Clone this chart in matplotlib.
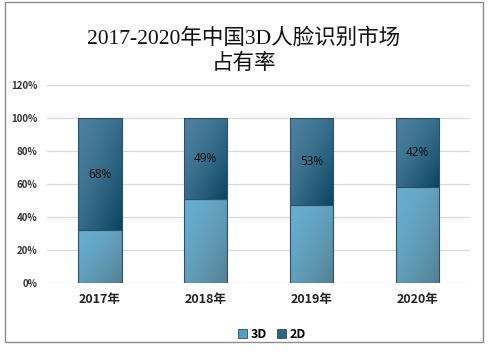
import numpy as np
import matplotlib
matplotlib.use('Agg')
import matplotlib.pyplot as plt
from matplotlib.patches import Rectangle
from matplotlib.colors import to_rgb

years = ['2017年', '2018年', '2019年', '2020年']
share_3d = [0.32, 0.51, 0.47, 0.58]
share_2d = [0.68, 0.49, 0.53, 0.42]
labels_2d = ['68%', '49%', '53%', '42%']
yticks = [0, 0.2, 0.4, 0.6, 0.8, 1.0, 1.2]
ytick_labels = ['0%', '20%', '40%', '60%', '80%', '100%', '120%']

CJK = ['Noto Sans CJK SC', 'DejaVu Sans']
plt.rcParams['font.family'] = CJK

# colour pairs: (top-left, bottom-right)
C3D = ('#68add0', '#557f90')
C2D = ('#4d7f9f', '#08435e')


def gradient_fill(ax, bar, c0, c1):
    """Fill a bar patch with a diagonal gradient clipped to its shape."""
    x0, y0 = bar.get_x(), bar.get_y()
    w, h = bar.get_width(), bar.get_height()
    n = 64
    gx, gy = np.meshgrid(np.linspace(0, 1, n), np.linspace(0, 1, n))
    t = np.clip((gx + gy) / 2.0, 0, 1) ** 1.6
    a, b = np.array(to_rgb(c0)), np.array(to_rgb(c1))
    img = a[None, None, :] * (1 - t[..., None]) + b[None, None, :] * t[..., None]
    im = ax.imshow(img, extent=(x0, x0 + w, y0, y0 + h), origin='upper',
                   aspect='auto', zorder=2, interpolation='bilinear')
    im.set_clip_path(bar)


fig = plt.figure(figsize=(4.88, 3.52), dpi=100)
ax = fig.add_axes([0.0963, 0.196, 0.867, 0.5625])

x = np.arange(len(years))
w = 0.41
bars3 = ax.bar(x, share_3d, w, facecolor='none', edgecolor='#2f5064', lw=0.8, zorder=3, label='3D')
bars2 = ax.bar(x, share_2d, w, bottom=share_3d, facecolor='none', edgecolor='#2f5064',
               lw=0.8, zorder=3, label='2D')
for b in bars3:
    gradient_fill(ax, b, *C3D)
for b in bars2:
    gradient_fill(ax, b, *C2D)

for xi, b3, b2, lab in zip(x, share_3d, share_2d, labels_2d):
    ax.text(xi, b3 + b2 / 2, lab, ha='center', va='center', fontsize=8.5,
            family=['Open Sans', 'DejaVu Sans'], color='#0d0d0d', zorder=4)

ax.set_xlim(-0.5, len(years) - 0.5)
ax.set_ylim(0, 1.2)
ax.set_yticks(yticks)
ax.set_yticklabels(ytick_labels, fontsize=7, fontweight='bold', color='#333333')
ax.set_xticks(x)
ax.set_xticklabels(years, fontsize=9, fontweight='bold', color='#222222')
ax.tick_params(axis='both', length=0)
ax.tick_params(axis='y', pad=7)
ax.tick_params(axis='x', pad=7)
ax.grid(axis='y', color='#d9d9d9', lw=0.9, zorder=0)
ax.set_axisbelow(True)
for s in ax.spines.values():
    s.set_visible(False)

fig.text(0.5, 0.855, '2017-2020年中国3D人脸识别市场\n占有率', ha='center', va='center',
         fontsize=15.5, family=['Liberation Serif', 'Noto Sans CJK SC'],
         linespacing=1.35, color='#111111')

h3 = Rectangle((0, 0), 1, 1, facecolor='#5a9cc0', edgecolor='#2f5064', lw=0.6)
h2 = Rectangle((0, 0), 1, 1, facecolor='#2e6483', edgecolor='#2f5064', lw=0.6)
fig.legend([h3, h2], ['3D', '2D'], loc='center', bbox_to_anchor=(0.557, 0.05),
           ncol=2, frameon=False, handlelength=0.7, handleheight=0.7,
           handletextpad=0.3, columnspacing=0.8,
           prop={'size': 9, 'weight': 'bold', 'family': CJK})

fig.patches.append(Rectangle((5 / 488, 1 - 342 / 352), 478 / 488, 340 / 352,
                             transform=fig.transFigure, fill=False,
                             edgecolor='#8c8c8c', lw=1.0))

fig.savefig('out.png', dpi=100)
